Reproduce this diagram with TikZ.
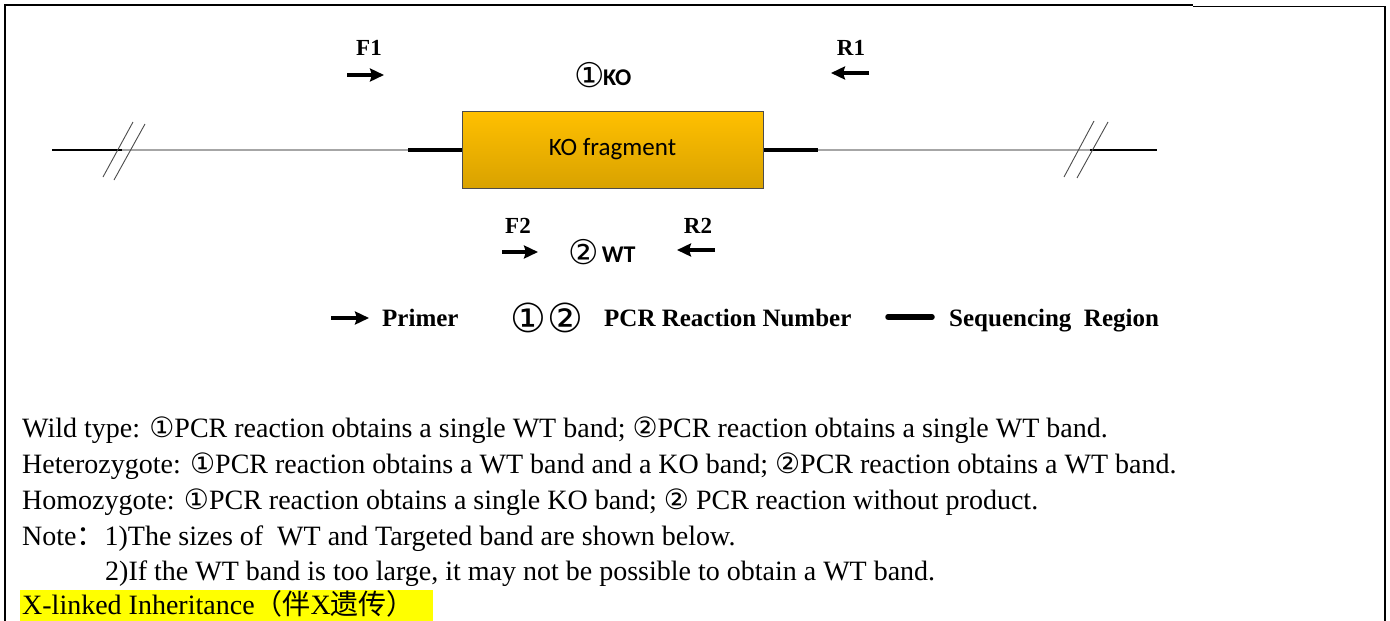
\documentclass[tikz,border=0pt]{standalone}
\usepackage{fontspec}
\setmainfont{Liberation Serif}
\newfontfamily\symfont{DejaVu Sans}
\newfontfamily\cjkfont{Noto Sans CJK SC}
\newfontfamily\calfont{Carlito}
\usetikzlibrary{arrows.meta}
\definecolor{boxtop}{HTML}{FFC000}
\definecolor{boxbot}{HTML}{D9A200}
\definecolor{hl}{HTML}{FFFF00}
\tikzset{
  frameline/.style={line width=1.6pt},
  thinblack/.style={line width=1.2pt, black},
  grayline/.style={line width=2.6pt, gray!70},
  seqline/.style={line width=4.5pt, black},
  slash/.style={line width=0.9pt, gray!60!black},
  primer/.style={line width=3.4pt, -{Stealth[length=14pt,width=13pt,inset=2pt]}},
  plabel/.style={font=\fontsize{23}{25}\selectfont\bfseries, inner sep=0pt},
  leg/.style={font=\fontsize{25}{28}\selectfont\bfseries, inner sep=0pt, anchor=base west},
  body/.style={font=\fontsize{28}{32}\selectfont, inner sep=0pt, anchor=base west},
}
\newcommand{\cA}{{\symfont\fontsize{28}{30}\selectfont ①}}
\newcommand{\cB}{{\symfont\fontsize{28}{30}\selectfont ②}}
\begin{document}
\begin{tikzpicture}[x=1pt,y=-1pt]
\useasboundingbox (0,0) rectangle (1390,621);
\fill[white] (0,0) rectangle (1390,621);
% frame
\coordinate (fbl) at (5,621); \coordinate (ftl) at (5,5); \coordinate (ftm) at (1193,5);
\coordinate (ftm2) at (1193,6.5); \coordinate (ftr) at (1385,6.5); \coordinate (fbr) at (1385,621);
\draw[frameline] (fbl) -- (ftl) -- (ftm);
\draw[frameline] (ftm2) -- (ftr) -- (fbr);
% highlight
\fill[hl] (20,590) rectangle (433,621);
% main line
\coordinate (a0) at (52,150); \coordinate (a1) at (122,150); \coordinate (a2) at (408,150);
\coordinate (a3) at (462,150); \coordinate (b3) at (763,150); \coordinate (b2) at (818,150);
\coordinate (b1) at (1090,150); \coordinate (b0) at (1157,150);
\draw[thinblack] (a0) -- (a1);
\draw[grayline] (a1) -- (a2);
\draw[seqline] (a2) -- (a3);
\draw[seqline] (b3) -- (b2);
\draw[grayline] (b2) -- (b1);
\draw[thinblack] (b1) -- (b0);
\coordinate (s1a) at (103,177); \coordinate (s1b) at (133,122);
\coordinate (s2a) at (114,180); \coordinate (s2b) at (145,124);
\coordinate (s3a) at (1064,177); \coordinate (s3b) at (1094,121);
\coordinate (s4a) at (1077,178); \coordinate (s4b) at (1108,122);
\draw[slash] (s1a) -- (s1b); \draw[slash] (s2a) -- (s2b);
\draw[slash] (s3a) -- (s3b); \draw[slash] (s4a) -- (s4b);
% box
\node[draw=gray!60!black, line width=0.8pt, top color=boxtop, bottom color=boxbot,
  minimum width=301pt, minimum height=77pt, inner sep=0pt] (ko) at (612.5,149.5)
  {\calfont\fontsize{25}{28}\selectfont KO fragment};
% primers
\node[plabel] (F1) at (369,48) {F1};
\coordinate (f1s) at (347,75); \coordinate (f1e) at (384,75);
\draw[primer] (f1s) -- (f1e);
\node[plabel] (R1) at (851,48) {R1};
\coordinate (r1s) at (869,73); \coordinate (r1e) at (831,73);
\draw[primer] (r1s) -- (r1e);
\node[inner sep=0pt] (ko1) at (603,75) {{\symfont\fontsize{34}{36}\selectfont\raisebox{-2pt}{①}}\hspace{-2pt}{\calfont\bfseries\fontsize{24}{26}\selectfont KO}};
\node[plabel] (F2) at (518,226) {F2};
\coordinate (f2s) at (502,252); \coordinate (f2e) at (538,252);
\draw[primer] (f2s) -- (f2e);
\node[plabel] (R2) at (698,226) {R2};
\coordinate (r2s) at (715,250); \coordinate (r2e) at (677,250);
\draw[primer] (r2s) -- (r2e);
\node[inner sep=0pt] (wt2) at (602,252) {{\symfont\fontsize{34}{36}\selectfont\raisebox{-2pt}{②}}\hspace{3pt}{\calfont\bfseries\fontsize{24}{26}\selectfont WT}};
% legend
\coordinate (lgs) at (331,318); \coordinate (lge) at (369,318);
\draw[primer] (lgs) -- (lge);
\node[leg] (lprimer) at (382,326) {Primer};
\node[inner sep=0pt, anchor=west] (lcirc) at (510,318) {{\symfont\fontsize{40}{42}\selectfont ①\hspace{1pt}②}};
\node[leg] (lpcr) at (604,326) {PCR Reaction Number};
\coordinate (lss) at (888,317); \coordinate (lse) at (932,317);
\draw[seqline, line width=5.5pt, line cap=round] (lss) -- (lse);
\node[leg] (lseq) at (949,326) {Sequencing\ \ Region};
% body text
\node[body] (t1) at (22,437) {Wild type: \cA PCR reaction obtains a single WT band; \cB PCR reaction obtains a single WT band.};
\node[body] (t2) at (22,473) {Heterozygote: \cA PCR reaction obtains a WT band and a KO band; \cB PCR reaction obtains a WT band.};
\node[body] (t3) at (22,509) {Homozygote: \cA PCR reaction obtains a single KO band; \cB\ PCR reaction without product.};
\node[body] (t4) at (22,545) {Note{\cjkfont ：}1)The sizes of\ \ WT and Targeted band are shown below.};
\node[body] (t5) at (105,580) {2)If the WT band is too large, it may not be possible to obtain a WT band.};
\node[body] (t6) at (22,614) {X-linked Inheritance{\cjkfont （伴}X{\cjkfont 遗传）}};
\end{tikzpicture}
\end{document}
